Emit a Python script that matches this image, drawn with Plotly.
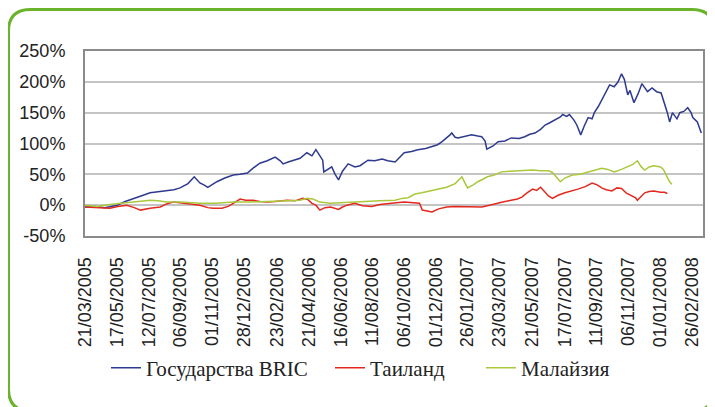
import plotly.graph_objects as go

# ---------------- data ----------------
bric_dates = ["2005-03-21","2005-04-08","2005-04-25","2005-05-17","2005-05-31","2005-06-14","2005-06-28",
  "2005-07-14","2005-07-28","2005-08-12","2005-08-25","2005-09-05","2005-09-19","2005-09-30","2005-10-10",
  "2005-10-17","2005-10-24","2005-10-31","2005-11-09","2005-11-23","2005-12-08","2005-12-20","2006-01-02",
  "2006-01-12","2006-01-24","2006-02-06","2006-02-20","2006-03-01","2006-03-06","2006-03-15","2006-03-24",
  "2006-04-05","2006-04-17","2006-04-26","2006-05-03","2006-05-10","2006-05-15","2006-05-17","2006-05-24",
  "2006-05-31","2006-06-06","2006-06-12","2006-06-19","2006-06-29","2006-07-11","2006-07-20","2006-08-03",
  "2006-08-15","2006-08-28","2006-09-07","2006-09-20","2006-09-29","2006-10-06","2006-10-19","2006-10-30",
  "2006-11-13","2006-11-24","2006-12-04","2006-12-12","2006-12-19","2006-12-26","2006-12-29","2007-01-04",
  "2007-01-09","2007-01-22","2007-02-02","2007-02-13","2007-02-20","2007-02-26","2007-03-01","2007-03-12",
  "2007-03-21","2007-04-02","2007-04-13","2007-04-27","2007-05-07","2007-05-16","2007-05-25","2007-06-04",
  "2007-06-12","2007-06-21","2007-06-29","2007-07-09","2007-07-13","2007-07-20","2007-07-25","2007-08-02",
  "2007-08-07","2007-08-14","2007-08-20","2007-08-27","2007-09-03","2007-09-07","2007-09-14","2007-09-20",
  "2007-09-27","2007-10-04","2007-10-12","2007-10-19","2007-10-25","2007-10-30","2007-11-05","2007-11-09",
  "2007-11-16","2007-11-23","2007-11-30","2007-12-10","2007-12-18","2007-12-26","2008-01-03","2008-01-09",
  "2008-01-14","2008-01-18","2008-01-23","2008-01-31","2008-02-05","2008-02-12","2008-02-19","2008-02-25",
  "2008-02-28","2008-03-07","2008-03-14"]
bric_values = [-3,-2,-4,0,6,11,15,
  20,22,24,25,28,35,46,36,
  33,29,33,38,44,49,50,52,
  60,68,72,78,72,67,70,73,
  76,85,80,90,80,73,54,58,
  62,50,41,55,67,62,64,73,
  72,75,72,70,78,85,87,90,
  92,95,98,103,108,114,117,110,
  109,112,114,112,111,104,91,96,
  103,104,109,108,111,115,117,123,
  130,134,138,143,147,144,147,138,
  130,114,128,142,140,150,160,171,
  182,195,192,200,213,204,179,186,
  166,180,197,184,190,184,182,165,
  150,135,150,140,150,152,158,150,
  142,135,117]

thai_dates = ["2005-03-21","2005-04-11","2005-05-04","2005-05-18","2005-06-03","2005-06-16","2005-06-27",
  "2005-07-14","2005-08-01","2005-08-12","2005-08-24","2005-09-05","2005-09-16","2005-09-28","2005-10-10",
  "2005-10-24","2005-11-02","2005-11-18","2005-11-29","2005-12-08","2005-12-15","2005-12-20","2005-12-30",
  "2006-01-12","2006-01-24","2006-02-06","2006-02-20","2006-03-13","2006-03-27","2006-04-10","2006-04-19",
  "2006-04-26","2006-05-03","2006-05-10","2006-05-19","2006-05-29","2006-06-12","2006-06-19","2006-06-27",
  "2006-07-11","2006-07-24","2006-08-10","2006-08-24","2006-09-07","2006-09-22","2006-10-06","2006-10-20",
  "2006-11-02","2006-11-07","2006-11-15","2006-11-24","2006-12-06","2006-12-20","2007-01-03","2007-01-22",
  "2007-02-06","2007-02-20","2007-03-06","2007-03-14","2007-03-29","2007-04-13","2007-04-24","2007-05-02",
  "2007-05-11","2007-05-21","2007-05-28","2007-06-04","2007-06-12","2007-06-18","2007-06-25","2007-07-05",
  "2007-07-17","2007-07-30","2007-08-09","2007-08-22","2007-09-03","2007-09-12","2007-09-20","2007-09-28",
  "2007-10-08","2007-10-17","2007-10-25","2007-11-02","2007-11-12","2007-11-19","2007-11-22","2007-11-29",
  "2007-12-05","2007-12-13","2007-12-21","2008-01-02","2008-01-09","2008-01-14"]
thai_values = [-3,-4,-5,-2,0,-4,-8,
  -5,-3,2,5,4,3,1,0,
  -4,-5,-5,-2,3,7,10,8,
  8,6,5,6,8,7,11,9,
  3,0,-8,-4,-3,-7,-3,0,
  3,-1,-2,1,3,4,5,4,
  3,-8,-9,-11,-6,-3,-2,-2,
  -3,-3,0,2,5,8,10,13,
  20,26,24,29,21,15,11,16,
  20,23,26,30,36,33,28,25,
  23,28,27,20,16,12,8,14,
  20,22,23,21,21,19]

malay_dates = ["2005-03-21","2005-04-11","2005-05-04","2005-05-25","2005-06-14","2005-06-30","2005-07-14",
  "2005-07-28","2005-08-12","2005-09-05","2005-09-26","2005-10-10","2005-11-07","2005-12-08","2006-01-06",
  "2006-02-06","2006-03-06","2006-04-05","2006-04-17","2006-04-28","2006-05-10","2006-05-29","2006-06-15",
  "2006-07-03","2006-07-28","2006-08-24","2006-09-20","2006-10-02","2006-10-13","2006-10-25","2006-11-06",
  "2006-11-24","2006-12-06","2006-12-20","2007-01-04","2007-01-12","2007-01-16","2007-01-22","2007-01-26",
  "2007-02-05","2007-02-13","2007-02-22","2007-03-02","2007-03-14","2007-03-27","2007-04-10","2007-04-24",
  "2007-05-07","2007-05-21","2007-06-04","2007-06-18","2007-06-25","2007-06-29","2007-07-09","2007-07-17",
  "2007-07-30","2007-08-13","2007-08-27","2007-09-07","2007-09-20","2007-10-01","2007-10-12","2007-10-25",
  "2007-11-05","2007-11-14","2007-11-22","2007-11-29","2007-12-05","2007-12-13","2007-12-21","2008-01-02",
  "2008-01-07","2008-01-14","2008-01-18","2008-01-22"]
malay_values = [0,-2,1,3,5,6,8,
  7,5,5,4,3,3,5,5,
  6,7,8,11,10,5,3,4,
  5,6,7,8,11,12,18,20,
  24,26,29,35,42,46,35,28,
  33,38,42,46,49,54,55,56,
  57,57,56,56,53,49,38,44,
  49,50,54,56,60,58,54,58,
  62,66,72,62,57,62,64,62,
  58,44,38,34]

tick_dates = ["2005-03-21","2005-05-17","2005-07-12","2005-09-06","2005-11-01","2005-12-28","2006-02-23",
  "2006-04-21","2006-06-16","2006-08-11","2006-10-06","2006-12-01","2007-01-26","2007-03-23","2007-05-21",
  "2007-07-17","2007-09-11","2007-11-06","2008-01-01","2008-02-26"]
y_ticks = [-50, 0, 50, 100, 150, 200, 250]
y_tick_labels = ["-50%", "0%", "50%", "100%", "150%", "200%", "250%"]

series_names = ["Государства BRIC", "Таиланд", "Малайзия"]
series_colors = ["#2e3a8f", "#e3281f", "#a9c83c"]

# ---------------- figure ----------------
# The page body has an 8px default margin, so the figure is drawn 8px smaller
# and all pixel positions below are page positions minus 8.
OFF = 8
W, H = 715 - OFF, 407 - OFF
L, R, T, B = 85 - OFF, W - (703 - OFF), 51 - OFF, H - (236 - OFF)

fig = go.Figure()
all_series = [(bric_dates, bric_values), (thai_dates, thai_values), (malay_dates, malay_values)]
legend_ids = ["legend", "legend2", "legend3"]
for (d, v), name, col, lg in zip(all_series, series_names, series_colors, legend_ids):
    fig.add_trace(go.Scatter(x=d, y=v, mode="lines", name=name,
                             line=dict(color=col, width=1.5), legend=lg))

def px2paper(px, py):
    # px, py: page pixel positions
    fx, fy = px - OFF, py - OFF
    return (fx - L) / (W - L - R), (H - B - fy) / (H - T - B)

# rounded green frame (page pixel coordinates)
x0, y0, x1, y1, r = 8.5, 9.5, 714, 411, 22
pts = [("M", x0 + r, y0), ("L", x1 - r, y0), ("Q", x1, y0, x1, y0 + r), ("L", x1, y1 - r),
       ("Q", x1, y1, x1 - r, y1), ("L", x0 + r, y1), ("Q", x0, y1, x0, y1 - r), ("L", x0, y0 + r),
       ("Q", x0, y0, x0 + r, y0)]
path = ""
for p in pts:
    cmd = p[0]
    coords = p[1:]
    seg = []
    for i in range(0, len(coords), 2):
        a, b = px2paper(coords[i], coords[i + 1])
        seg.append(f"{a:.5f},{b:.5f}")
    path += cmd + " ".join(seg) + " "
path += "Z"
fig.add_shape(type="path", xref="paper", yref="paper", path=path,
              line=dict(color="#6cb32c", width=3), fillcolor="rgba(0,0,0,0)", layer="below")

legend_x_page = [106, 330, 481]
leg_common = dict(orientation="h", yanchor="middle", xanchor="left",
                  font=dict(family="Liberation Serif", size=21, color="#222"),
                  bgcolor="rgba(0,0,0,0)", itemwidth=30)
layout_legends = {}
for lg, xp in zip(legend_ids, legend_x_page):
    lx, ly = px2paper(xp, 368)
    layout_legends[lg] = dict(x=lx, y=ly, **leg_common)

fig.update_layout(
    width=W, height=H,
    margin=dict(l=L, r=R, t=T, b=B, autoexpand=False),
    paper_bgcolor="white", plot_bgcolor="white",
    showlegend=True,
    font=dict(family="Liberation Sans", size=18, color="#222"),
    xaxis=dict(type="date", range=["2005-03-21", "2008-03-17"], automargin=False,
               tickvals=tick_dates, tickformat="%d/%m/%Y", tickangle=-90,
               showgrid=False, zeroline=False, ticks="",
               showline=True, linecolor="#8a8a8a", linewidth=2, mirror=True,
               ticklabelstandoff=12,
               tickfont=dict(family="Liberation Sans", size=18, color="#222")),
    yaxis=dict(range=[-50, 250], tickvals=y_ticks, ticktext=y_tick_labels, automargin=False,
               showgrid=True, gridcolor="#c4c4c4", gridwidth=1.5, zeroline=False,
               showline=True, linecolor="#8a8a8a", linewidth=2, mirror=True,
               ticks="", ticklabelstandoff=14,
               tickfont=dict(family="Liberation Sans", size=18, color="#222")),
    **layout_legends,
)

fig.write_html("out.html")
